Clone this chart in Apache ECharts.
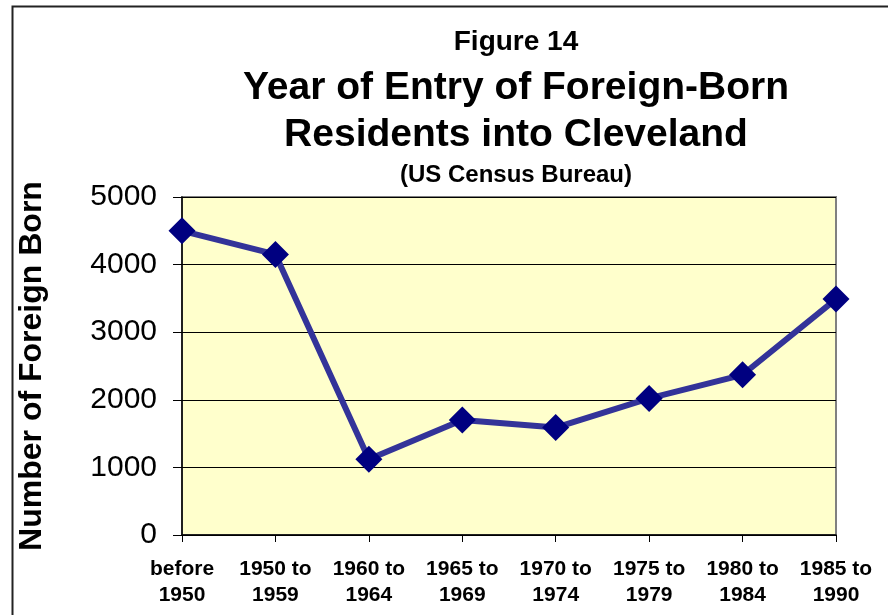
<!DOCTYPE html>
<html>
<head>
<meta charset="utf-8">
<script src="https://cdn.jsdelivr.net/npm/echarts@6/dist/echarts.min.js"></script>
<style>html,body{margin:0;padding:0;background:#fff}#c{width:888px;height:615px}</style>
</head>
<body>
<div id="c"></div>
<script>
var categories = ['before\n1950','1950 to\n1959','1960 to\n1964','1965 to\n1969','1970 to\n1974','1975 to\n1979','1980 to\n1984','1985 to\n1990'];
var foreignBorn = [4500, 4150, 1120, 1700, 1590, 2020, 2370, 3490];
var yTicks = [0, 1000, 2000, 3000, 4000, 5000];

var chart = echarts.init(document.getElementById('c'));
var F = '"Liberation Sans", Arial, sans-serif';
chart.setOption({
  animation: false,
  backgroundColor: '#fff',
  graphic: [
    {type: 'rect', left: 10, top: 4, shape: {x: 0, y: 0, width: 900, height: 640}, style: {fill: 'none', stroke: '#222', lineWidth: 2}, z: 0}
  ],
  title: [
    {text: 'Figure 14', left: 511, top: 21, textAlign: 'center', textStyle: {fontFamily: F, fontSize: 28, fontWeight: 'bold', color: '#000', lineHeight: 32}},
    {text: 'Year of Entry of Foreign-Born\nResidents into Cleveland', left: 511, top: 60, textAlign: 'center', textStyle: {fontFamily: F, fontSize: 39, fontWeight: 'bold', color: '#000', lineHeight: 47}},
    {text: '(US Census Bureau)', left: 511, top: 157, textAlign: 'center', textStyle: {fontFamily: F, fontSize: 24, fontWeight: 'bold', color: '#000', lineHeight: 26}}
  ],
  grid: {left: 182, right: 52, top: 197, bottom: 80, show: true, backgroundColor: '#FFFFCC', borderColor: '#808080', borderWidth: 2},
  xAxis: {
    type: 'category', data: categories, boundaryGap: false,
    axisLine: {lineStyle: {color: '#000', width: 1.5}},
    axisTick: {show: true, length: 7, lineStyle: {color: '#000'}},
    axisLabel: {fontFamily: F, fontSize: 21, fontWeight: 'bold', color: '#000', lineHeight: 26, margin: 21, interval: 0},
    splitLine: {show: false}
  },
  yAxis: {
    type: 'value', min: 0, max: 5000, interval: 1000,
    name: 'Number of Foreign Born', nameLocation: 'middle', nameGap: 134,
    nameTextStyle: {fontFamily: F, fontSize: 32, fontWeight: 'bold', color: '#000'},
    axisLine: {show: true, lineStyle: {color: '#000', width: 1.5}},
    axisTick: {show: true, length: 9, lineStyle: {color: '#000'}},
    axisLabel: {fontFamily: F, fontSize: 30, color: '#000', margin: 25,
      formatter: function (v) { return yTicks.indexOf(v) >= 0 ? String(v) : ''; }},
    splitLine: {show: true, lineStyle: {color: '#000', width: 1}}
  },
  series: [{
    type: 'line', data: foreignBorn,
    lineStyle: {color: '#333399', width: 6},
    symbol: 'diamond', symbolSize: 27,
    itemStyle: {color: '#000080'},
    z: 5
  }]
});
</script>
</body>
</html>
